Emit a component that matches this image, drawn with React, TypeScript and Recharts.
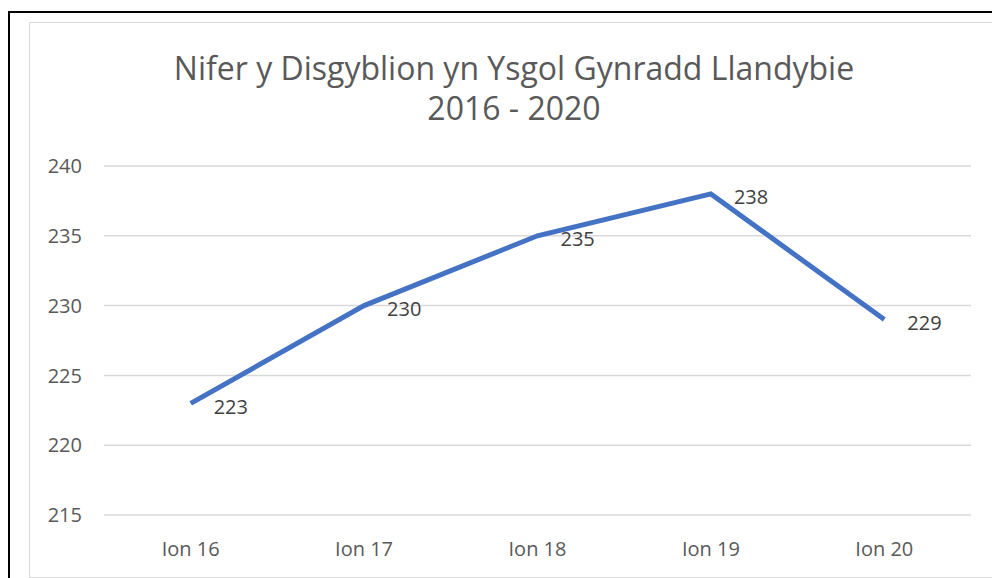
import { LineChart, Line, XAxis, YAxis, CartesianGrid, LabelList } from 'recharts';

const CATEGORIES = ['Ion 16', 'Ion 17', 'Ion 18', 'Ion 19', 'Ion 20'];
const PUPILS = [223, 230, 235, 238, 229];
const Y_TICKS = [215, 220, 225, 230, 235, 240];
const TITLE = ['Nifer y Disgyblion yn Ysgol Gynradd Llandybie', '2016 - 2020'];

const FONT = '"Open Sans", "Noto Sans", sans-serif';
const TEXT = '#595959';
const LINE = '#4472C4';
const GRID = '#d9d9d9';

const data = CATEGORIES.map((name, i) => ({ name, value: PUPILS[i] }));

// label sits to the right of the point, as Excel's "right" position does
function RightLabel(props: any) {
  const { x, y, value } = props;
  return (
    <text
      x={x + 23}
      y={y + 3}
      fill="#404040"
      fontSize={20}
      fontFamily={FONT}
      textAnchor="start"
      dominantBaseline="central"
    >
      {value}
    </text>
  );
}

export default function App() {
  return (
    <div style={{ position: 'relative', width: 1000, height: 578, margin: '-8px 0 0 -8px', overflow: 'hidden', background: '#fff' }}>
      <div style={{ position: 'absolute', left: 8, top: 11, width: 1010, height: 600, borderLeft: '2px solid #000', borderTop: '2px solid #000' }} />
      <div style={{ position: 'absolute', left: 29, top: 22, width: 964, height: 554, border: `1px solid ${GRID}` }} />
      <div style={{ position: 'absolute', left: 0, top: 48, width: 1028, textAlign: 'center', fontFamily: FONT, fontSize: 32, lineHeight: '40px', color: TEXT }}>
        {TITLE.map((t) => (
          <div key={t}>{t}</div>
        ))}
      </div>
      <div style={{ position: 'absolute', left: 0, top: 0 }}>
        <LineChart width={1000} height={578} data={data} margin={{ top: 166, right: 29, bottom: 0, left: 0 }}>
          <CartesianGrid vertical={false} stroke={GRID} strokeWidth={1.5} />
          <XAxis
            dataKey="name"
            axisLine={false}
            tickLine={false}
            tickSize={0}
            tickMargin={27}
            height={63}
            padding={{ left: 86.7, right: 86.7 }}
            tick={{ fill: TEXT, fontSize: 20, fontFamily: FONT }}
          />
          <YAxis
            domain={[215, 240]}
            ticks={Y_TICKS}
            axisLine={false}
            tickLine={false}
            tickSize={0}
            tickMargin={22}
            width={104}
            tick={{ fill: TEXT, fontSize: 20, fontFamily: FONT }}
          />
          <Line
            type="linear"
            dataKey="value"
            stroke={LINE}
            strokeWidth={5}
            dot={false}
            isAnimationActive={false}
          >
            <LabelList dataKey="value" content={<RightLabel />} />
          </Line>
        </LineChart>
      </div>
    </div>
  );
}
